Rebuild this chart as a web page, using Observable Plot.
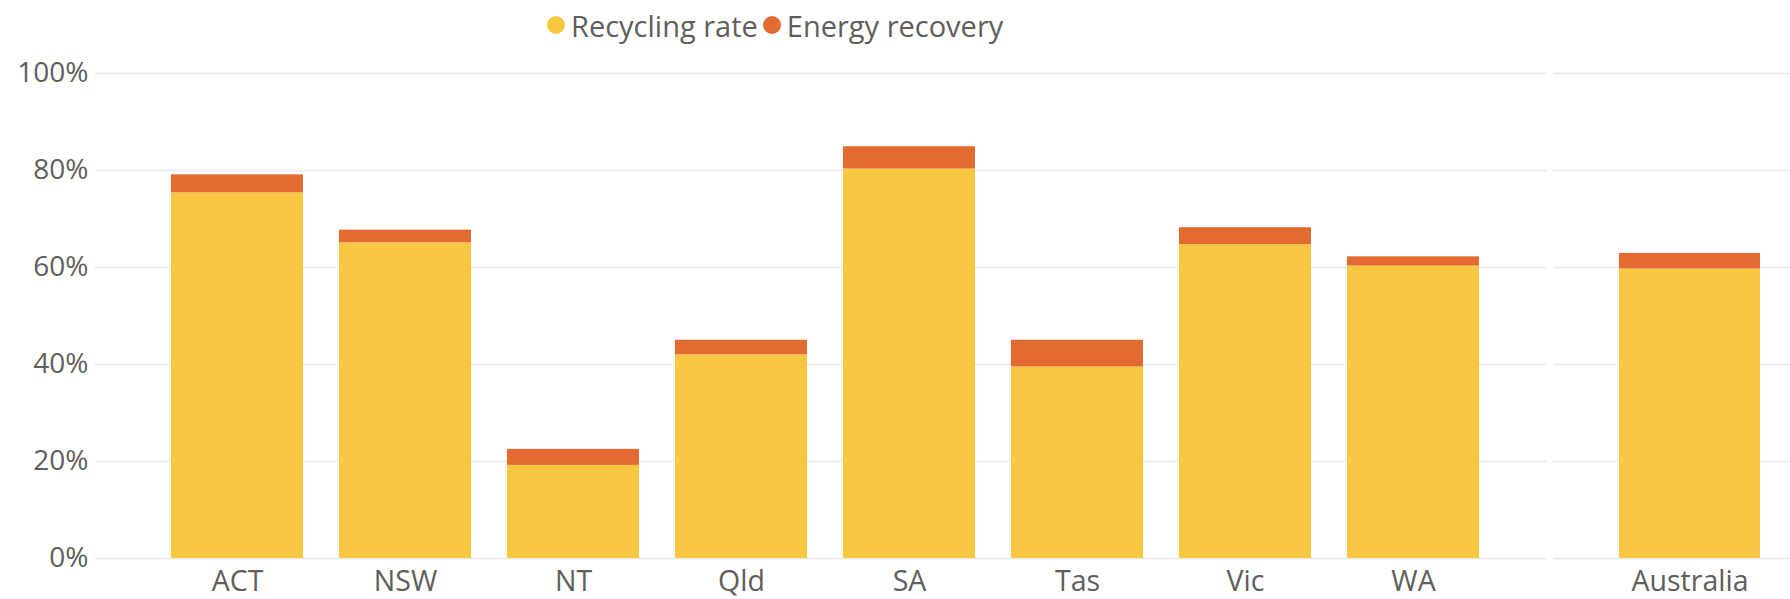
<!DOCTYPE html>
<html>
<head>
<meta charset="utf-8">
<script src="https://cdn.jsdelivr.net/npm/d3@7"></script>
<script src="https://cdn.jsdelivr.net/npm/@observablehq/plot@0.6"></script>
<style>
  html, body { margin: 0; padding: 0; background: #fff; }
  #wrap { width: 1790px; height: 599px; overflow: hidden; font-family: "Open Sans", sans-serif; color: #605E5C; }
  #legend { height: 50px; display: flex; align-items: center; padding-left: 547px; font-size: 29px; color: #605E5C; }
  .item { display: flex; align-items: center; margin-right: 5px; }
  .dot { width: 18px; height: 18px; border-radius: 50%; margin-right: 6px; }
  #charts { display: flex; }
  #gap { width: 6px; }
</style>
</head>
<body>
<div id="wrap">
  <div id="legend"></div>
  <div id="charts"><div id="left"></div><div id="gap"></div><div id="right"></div></div>
</div>
<script>
const categories = ["ACT", "NSW", "NT", "Qld", "SA", "Tas", "Vic", "WA"];
const recyclingRate = [75.4, 65.1, 19.2, 42.0, 80.3, 39.5, 64.7, 60.3];
const energyRecovery = [3.7, 2.6, 3.3, 3.0, 4.6, 5.5, 3.5, 1.9];
const totalCategory = ["Australia"];
const totalRecycling = [59.7];
const totalEnergy = [3.2];
const seriesNames = ["Recycling rate", "Energy recovery"];
const seriesColors = ["#F8C842", "#E36A31"];
const yTicks = [0, 20, 40, 60, 80, 100];

function toRows(cats, rec, en) {
  const rows = [];
  cats.forEach((c, i) => {
    rows.push({cat: c, series: seriesNames[0], value: rec[i]});
    rows.push({cat: c, series: seriesNames[1], value: en[i]});
  });
  return rows;
}

// Legend
const legend = document.getElementById("legend");
seriesNames.forEach((s, i) => {
  const it = document.createElement("div");
  it.className = "item";
  const d = document.createElement("span");
  d.className = "dot";
  d.style.background = seriesColors[i];
  const t = document.createElement("span");
  t.textContent = s;
  it.appendChild(d); it.appendChild(t);
  legend.appendChild(it);
});

const common = {
  height: 549,
  marginTop: 23,
  marginBottom: 41,
  marginRight: 0,
  style: {fontFamily: "Open Sans, sans-serif", fontSize: "28px", color: "#605E5C", background: "#fff"},
  color: {domain: seriesNames, range: seriesColors}
};

const left = Plot.plot({
  ...common,
  width: 1547,
  marginLeft: 95,
  y: {domain: [0, 100], axis: null},
  x: {domain: categories, paddingInner: 0.215, paddingOuter: 0.42, align: 0.53, axis: null},
  marks: [
    Plot.gridY(yTicks, {stroke: "#EDEDED", strokeOpacity: 1, strokeWidth: 2}),
    Plot.barY(toRows(categories, recyclingRate, energyRecovery), {x: "cat", y: "value", fill: "series"}),
    Plot.axisY(yTicks, {tickSize: 0, tickPadding: 7, tickFormat: d => d + "%", label: null, fontSize: 28, fill: "#605E5C"}),
    Plot.axisX({tickSize: 0, tickPadding: 12, label: null, fontSize: 28.5, fill: "#605E5C"})
  ]
});
document.getElementById("left").appendChild(left);

const right = Plot.plot({
  ...common,
  width: 237,
  marginLeft: 0,
  y: {domain: [0, 100], axis: null},
  x: {domain: totalCategory, paddingInner: 0, paddingOuter: 0.34, align: 0.69, axis: null},
  marks: [
    Plot.gridY(yTicks, {stroke: "#EDEDED", strokeOpacity: 1, strokeWidth: 2}),
    Plot.barY(toRows(totalCategory, totalRecycling, totalEnergy), {x: "cat", y: "value", fill: "series"}),
    Plot.axisX({tickSize: 0, tickPadding: 12, label: null, fontSize: 28.5, fill: "#605E5C"})
  ]
});
document.getElementById("right").appendChild(right);
</script>
</body>
</html>
